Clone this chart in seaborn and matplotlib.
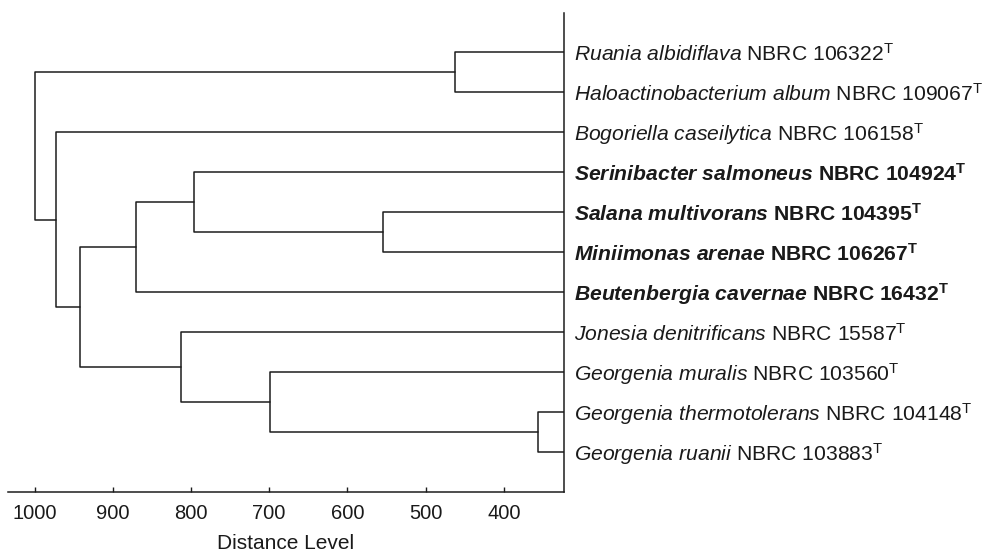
import matplotlib
matplotlib.use("Agg")
import matplotlib.pyplot as plt
import matplotlib.transforms as mtransforms
import pandas as pd
import seaborn as sns

# Leaves, top to bottom
species = [
    "Ruania albidiflava",
    "Haloactinobacterium album",
    "Bogoriella caseilytica",
    "Serinibacter salmoneus",
    "Salana multivorans",
    "Miniimonas arenae",
    "Beutenbergia cavernae",
    "Jonesia denitrificans",
    "Georgenia muralis",
    "Georgenia thermotolerans",
    "Georgenia ruanii",
]
strains = [
    "NBRC 106322",
    "NBRC 109067",
    "NBRC 106158",
    "NBRC 104924",
    "NBRC 104395",
    "NBRC 106267",
    "NBRC 16432",
    "NBRC 15587",
    "NBRC 103560",
    "NBRC 104148",
    "NBRC 103883",
]
highlighted = [False, False, False, True, True, True, True,
               False, False, False, False]

# Agglomeration steps: node (n_leaves + k) joins merge_a[k] and merge_b[k]
merge_a = [9, 0, 4, 8, 3, 7, 15, 17, 2, 12]
merge_b = [10, 1, 5, 11, 13, 14, 6, 16, 18, 19]
merge_dist = [356, 462, 554, 699, 796, 813, 870, 942, 972, 1000]

distance_ticks = [1000, 900, 800, 700, 600, 500, 400]

LEAF_LEVEL = 323
XMIN = 1034
LINE = "#1c1c1c"

sns.set_style("ticks")
plt.rcParams["font.family"] = ["Liberation Sans", "DejaVu Sans"]
plt.rcParams["mathtext.fontset"] = "custom"
plt.rcParams["mathtext.rm"] = "Liberation Sans"
plt.rcParams["mathtext.it"] = "Liberation Sans:italic"
plt.rcParams["mathtext.bf"] = "Liberation Sans:bold"
plt.rcParams["mathtext.bfit"] = "Liberation Sans:bold:italic"

# Build the bracket polylines of the dendrogram
n_leaves = len(species)
px = {i: LEAF_LEVEL for i in range(n_leaves)}
py = {i: float(i) for i in range(n_leaves)}
rows = []
for k, (a, b, d) in enumerate(zip(merge_a, merge_b, merge_dist)):
    node = n_leaves + k
    pts = [(px[a], py[a]), (d, py[a]), (d, py[b]), (px[b], py[b])]
    for order, (x, y) in enumerate(pts):
        rows.append({"node": node, "order": order, "distance": x, "leaf": y})
    px[node] = d
    py[node] = (py[a] + py[b]) / 2.0
segments = pd.DataFrame(rows)

fig = plt.figure(figsize=(9.84, 5.52), dpi=100)
ax = fig.add_axes([8 / 984, 1 - 492 / 552, 556 / 984, (492 - 13) / 552])

sns.lineplot(data=segments, x="distance", y="leaf", units="node",
             estimator=None, sort=False, color=LINE, linewidth=1.1, ax=ax)

ax.set_xlim(XMIN, LEAF_LEVEL)
ax.set_ylim(n_leaves, -0.975)

for side in ("left", "top"):
    ax.spines[side].set_visible(False)
for side in ("right", "bottom"):
    ax.spines[side].set_linewidth(1.1)
    ax.spines[side].set_color(LINE)

ax.set_yticks([])
ax.set_ylabel("")
ax.set_xticks(distance_ticks)
ax.set_xticklabels([str(t) for t in distance_ticks])
ax.tick_params(axis="x", direction="in", length=3.5, width=1.0,
               color=LINE, labelsize=14.5, pad=8.5, labelcolor="#1a1a1a")
ax.set_xlabel("Distance Level", fontsize=15, labelpad=8, color="#1a1a1a")

# Leaf labels to the right of the baseline
label_tf = mtransforms.offset_copy(ax.get_yaxis_transform(), fig=fig,
                                   x=10, y=-9, units="dots")
for i, (sp, st, hl) in enumerate(zip(species, strains, highlighted)):
    name = sp.replace(" ", r"\ ")
    if hl:
        txt = r"$\mathbfit{" + name + r"}$ " + st + r"$^{\mathbf{T}}$"
        weight = "bold"
    else:
        txt = r"$\mathit{" + name + r"}$ " + st + r"$^{\mathrm{T}}$"
        weight = "normal"
    ax.text(1.0, i, txt, transform=label_tf, ha="left", va="baseline",
            fontsize=15.2, fontweight=weight, color="#1a1a1a", clip_on=False)

fig.savefig("out.png", dpi=100)
